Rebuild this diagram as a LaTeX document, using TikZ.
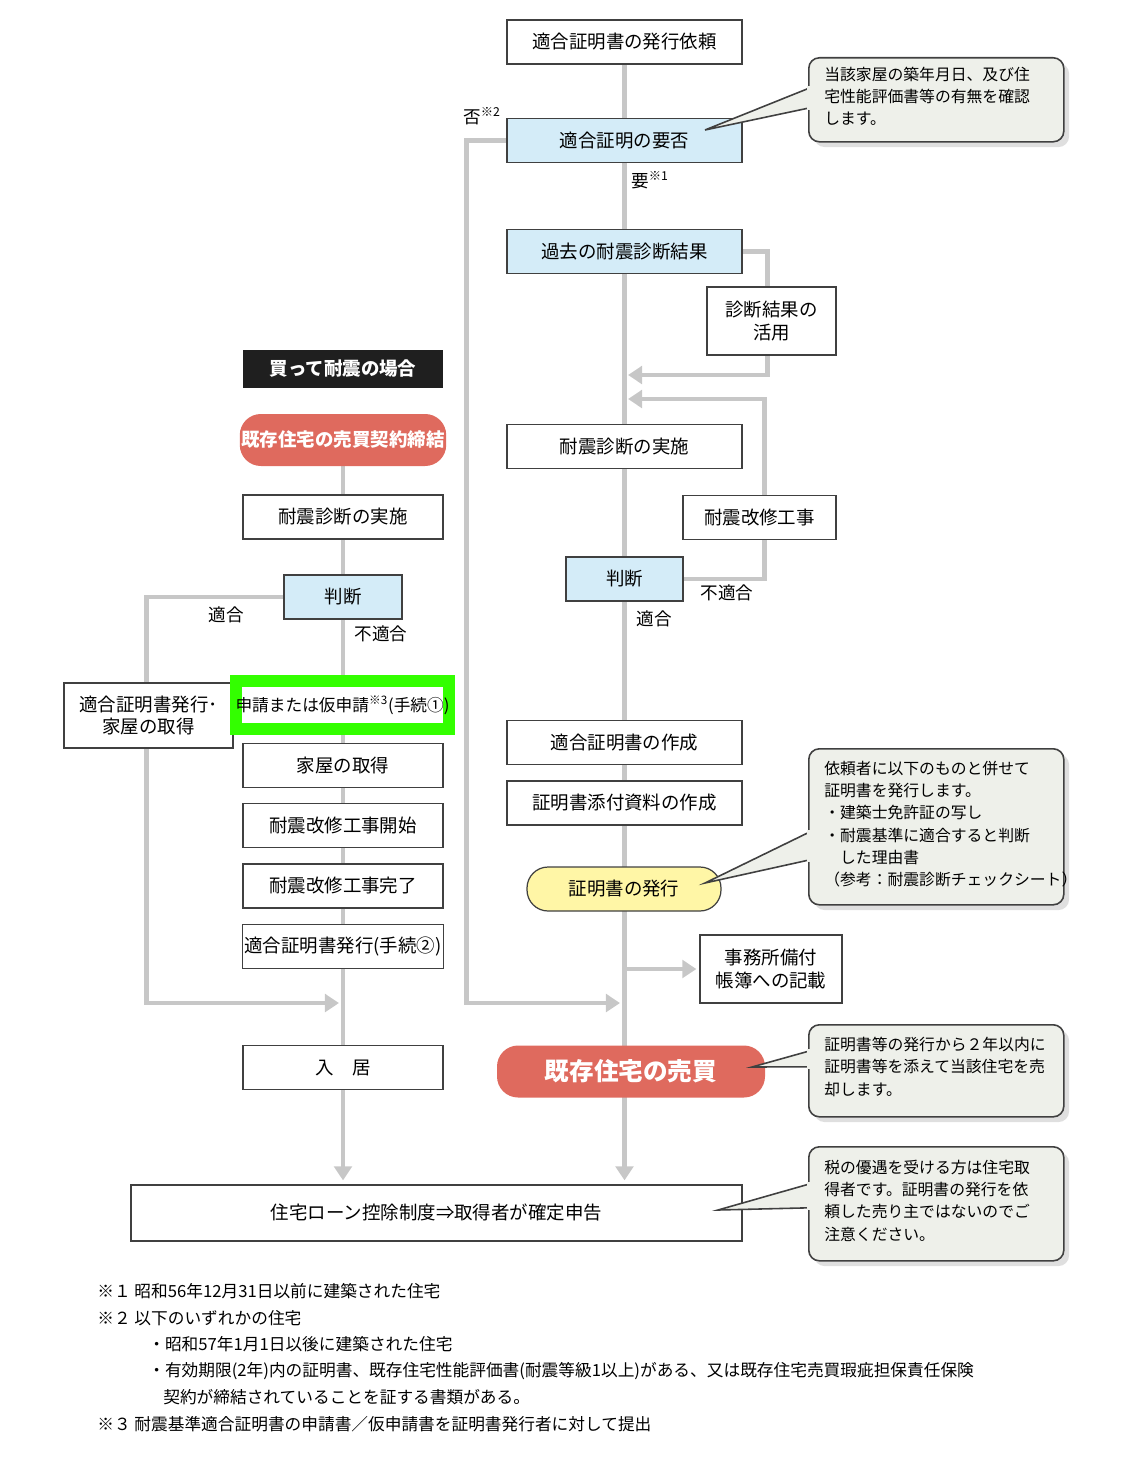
\documentclass[tikz,border=0pt]{standalone}
\usepackage{fontspec}
\setmainfont{Noto Sans CJK JP}
\usetikzlibrary{positioning}
\usetikzlibrary{calc}
\usetikzlibrary{arrows.meta}
\usetikzlibrary{backgrounds}
\usetikzlibrary{shadows}

\begin{document}
\begin{tikzpicture}[x=0.02cm, y=-0.02cm]
    \colorlet{border}{black!75}
\colorlet{flowline}{black!22}
\definecolor{askblue}{HTML}{D4ECF8}
\definecolor{issueyellow}{HTML}{FFF6A6}
\definecolor{salered}{HTML}{DF6A5E}
\definecolor{notefill}{HTML}{EEF0EA}
\definecolor{markgreen}{HTML}{33FF00}

\newcommand\boxfont{\fontsize{10.5}{13}\selectfont}
\newcommand\notefont{\fontsize{9}{12.6}\selectfont}

\tikzset{
    step box/.style={
        draw=border, fill=white, line width=.7pt,
        minimum height={44 * 0.02cm},
        minimum width={200 * 0.02cm},
        inner sep=1pt, align=center,
        font=\boxfont,
    },
    ask box/.style={step box, fill=askblue},
    issue box/.style={
        step box, fill=issueyellow, rounded corners=12pt,
        minimum width={194 * 0.02cm},
    },
    sale box/.style={
        fill=salered, text=white, rounded corners=12pt,
        inner sep=1pt,
    },
    note box/.style={
        draw=border, fill=notefill, line width=.9pt,
        rounded corners=6pt, align=left, font=\notefont,
        inner sep=0pt, anchor=north west,
        drop shadow={shadow xshift=3pt, shadow yshift=-3pt, fill=black!25},
    },
    note tip/.style={draw=border, fill=notefill, line width=.9pt},
    flow/.style={
        draw=flowline, line width=2.8pt,
        -{Triangle[width=10pt, length=8pt]},
    },
    spine/.style={draw=flowline, line width=2.8pt},
    branch label/.style={font=\fontsize{10}{12}\selectfont, inner sep=1pt},
}

\useasboundingbox (0, 0) rectangle (1148, 1460);

% right column
\node[step box, minimum width={235 * 0.02cm}] at (624.5, 42) (request) {適合証明書の発行依頼};
\node[ask box, minimum width={235 * 0.02cm}] at (624.5, 140.5) (need) {適合証明の要否};
\node[ask box, minimum width={235 * 0.02cm}] at (624.5, 251.5) (past) {過去の耐震診断結果};
\node[step box, minimum width={129 * 0.02cm}, minimum height={68 * 0.02cm}]
    at (771.5, 321) (reuse) {診断結果の\\活用};
\node[step box, minimum width={235 * 0.02cm}] at (624.5, 446.5) (checkR) {耐震診断の実施};
\node[step box, minimum width={153 * 0.02cm}] at (759.5, 517.5) (retrofitR) {耐震改修工事};
\node[ask box, minimum width={117 * 0.02cm}] at (624.5, 579) (judgeR) {判断};
\node[step box, minimum width={235 * 0.02cm}] at (624.5, 742.5) (makecert) {適合証明書の作成};
\node[step box, minimum width={235 * 0.02cm}] at (624.5, 803) (attach) {証明書添付資料の作成};
\node[issue box] at (624, 889) (issue) {証明書の発行};
\node[step box, minimum width={142 * 0.02cm}, minimum height={68 * 0.02cm}]
    at (771, 969) (ledger) {事務所備付\\帳簿への記載};
\node[sale box, minimum width={268 * 0.02cm}, minimum height={52 * 0.02cm},
    font=\fontsize{14}{16}\selectfont\bfseries] at (631, 1071.5) (sale) {既存住宅の売買};
\node[step box, minimum width={611 * 0.02cm}, minimum height={56 * 0.02cm}]
    at (436.5, 1213) (loan) {住宅ローン控除制度⇒取得者が確定申告};

% left column
\node[fill=black!88, text=white, minimum width={200 * 0.02cm}, minimum height={38 * 0.02cm},
    font=\fontsize{10.5}{13}\selectfont\bfseries] at (343, 369) (buyer) {買って耐震の場合};
\node[sale box, minimum width={200 * 0.02cm}, minimum height={52 * 0.02cm},
    font=\fontsize{10.5}{13}\selectfont\bfseries] at (343, 440) (contract) {既存住宅の売買契約締結};
\node[step box] at (343, 517) (checkL) {耐震診断の実施};
\node[ask box, minimum width={118 * 0.02cm}] at (343, 597) (judgeL) {判断};
\node[step box, minimum width={169 * 0.02cm}, minimum height={65 * 0.02cm}]
    at (148.5, 715.5) (getcert) {適合証明書発行･\\家屋の取得};
\node[draw=markgreen, fill=white, line width={12 * 0.02cm},
    minimum width={203 * 0.02cm}, minimum height={48 * 0.02cm}, inner sep=0pt,
    font=\fontsize{9.5}{12}\selectfont] at (342.5, 705) (apply)
    {申請または仮申請\textsuperscript{※3}(手続①)};
\node[step box] at (343, 765.5) (acquire) {家屋の取得};
\node[step box] at (343, 825.5) (workstart) {耐震改修工事開始};
\node[step box] at (343, 886) (workdone) {耐震改修工事完了};
\node[step box] at (343, 946.5) (certL) {適合証明書発行(手続②)};
\node[step box] at (343, 1067.5) (movein) {入　居};

% branch labels
\node[branch label] at (482, 116) (noneed) {否\textsuperscript{※2}};
\node[branch label] at (650, 180) (yesneed) {要\textsuperscript{※1}};
\node[branch label] at (727, 593) (ngR) {不適合};
\node[branch label] at (654, 619) (okR) {適合};
\node[branch label] at (226, 615) (okL) {適合};
\node[branch label] at (381, 634) (ngL) {不適合};

\coordinate (merge-reuse) at (628, 375);
\coordinate (merge-retrofit) at (628, 399);
\coordinate (merge-skip) at (620, 1003);
\coordinate (merge-ok) at (339, 1003);

\begin{scope}[on background layer]
    \draw[flow] (request.south) -- ($(request.south |- loan.north) + (0, -4)$);
    \draw[flow] (contract.south) -- ($(contract.south |- loan.north) + (0, -4)$);
    \draw[flow] (need.west) -- ++(-40, 0) |- (merge-skip);
    \draw[flow] (past.east) -- ++(25, 0) |- (merge-reuse);
    \draw[flow] (judgeR.east) -- ++(81, 0) |- (merge-retrofit);
    \draw[flow] (ledger.west -| request.south) -- ($(ledger.west) + (-3, 0)$);
    \draw[flow] (judgeL.west) -- ++(-137, 0) |- (merge-ok);
\end{scope}

% notes
\node[note box, minimum width={255 * 0.02cm}, minimum height={84 * 0.02cm},
    text width={230 * 0.02cm}] at (808, 57) (note-need) {};
\node[note box, minimum width={255 * 0.02cm}, minimum height={156 * 0.02cm},
    text width={230 * 0.02cm}] at (808, 748) (note-issue) {};
\node[note box, minimum width={255 * 0.02cm}, minimum height={92 * 0.02cm},
    text width={230 * 0.02cm}] at (808, 1024) (note-sale) {};
\node[note box, minimum width={255 * 0.02cm}, minimum height={114 * 0.02cm},
    text width={230 * 0.02cm}] at (808, 1146) (note-loan) {};

\fill[note tip] ($(note-need.west) + (2, -12)$) -- (705, 130) -- ($(note-need.west) + (2, 8)$);
\fill[note tip] ($(note-issue.west) + (2, 5)$) -- (705, 883) -- ($(note-issue.west) + (2, 33)$);
\fill[note tip] ($(note-sale.west) + (2, -20)$) -- (752, 1067) -- ($(note-sale.west) + (2, -4)$);
\fill[note tip] ($(note-loan.west) + (2, -20)$) -- (718, 1210) -- ($(note-loan.west) + (2, 4)$);

\fill[notefill] ($(note-need.west) + (-1, -14)$) rectangle ($(note-need.west) + (6, 10)$);
\fill[notefill] ($(note-issue.west) + (-1, 3)$) rectangle ($(note-issue.west) + (6, 35)$);
\fill[notefill] ($(note-sale.west) + (-1, -22)$) rectangle ($(note-sale.west) + (6, -2)$);
\fill[notefill] ($(note-loan.west) + (-1, -22)$) rectangle ($(note-loan.west) + (6, 6)$);

\node[font=\notefont, align=left, anchor=north west, inner sep=0pt] at (824, 67) (note-need-text)
    {当該家屋の築年月日、及び住\\宅性能評価書等の有無を確認\\します。};
\node[font=\notefont, align=left, anchor=north west, inner sep=0pt] at (824, 761) (note-issue-text)
    {依頼者に以下のものと併せて\\証明書を発行します。\\・建築士免許証の写し\\・耐震基準に適合すると判断\\　した理由書\\（参考：耐震診断チェックシート）};
\node[font=\notefont, align=left, anchor=north west, inner sep=0pt] at (824, 1037) (note-sale-text)
    {証明書等の発行から２年以内に\\証明書等を添えて当該住宅を売\\却します。};
\node[font=\notefont, align=left, anchor=north west, inner sep=0pt] at (824, 1160) (note-loan-text)
    {税の優遇を受ける方は住宅取\\得者です。証明書の発行を依\\頼した売り主ではないのでご\\注意ください。};

% footnotes
\begin{scope}[every node/.style={font=\fontsize{9.5}{12}\selectfont, anchor=west, inner sep=0pt}]
    \node at (97, 1291) (fn-1) {※１\ 昭和56年12月31日以前に建築された住宅};
    \node at (97, 1318) (fn-2) {※２\ 以下のいずれかの住宅};
    \node at (148, 1344) (fn-2a) {・昭和57年1月1日以後に建築された住宅};
    \node at (148, 1371) (fn-2b) {・有効期限(2年)内の証明書、既存住宅性能評価書(耐震等級1以上)がある、又は既存住宅売買瑕疵担保責任保険};
    \node at (163, 1397) (fn-2c) {契約が締結されていることを証する書類がある。};
    \node at (97, 1424) (fn-3) {※３ 耐震基準適合証明書の申請書／仮申請書を証明書発行者に対して提出};
\end{scope}
\end{tikzpicture}
\end{document}
